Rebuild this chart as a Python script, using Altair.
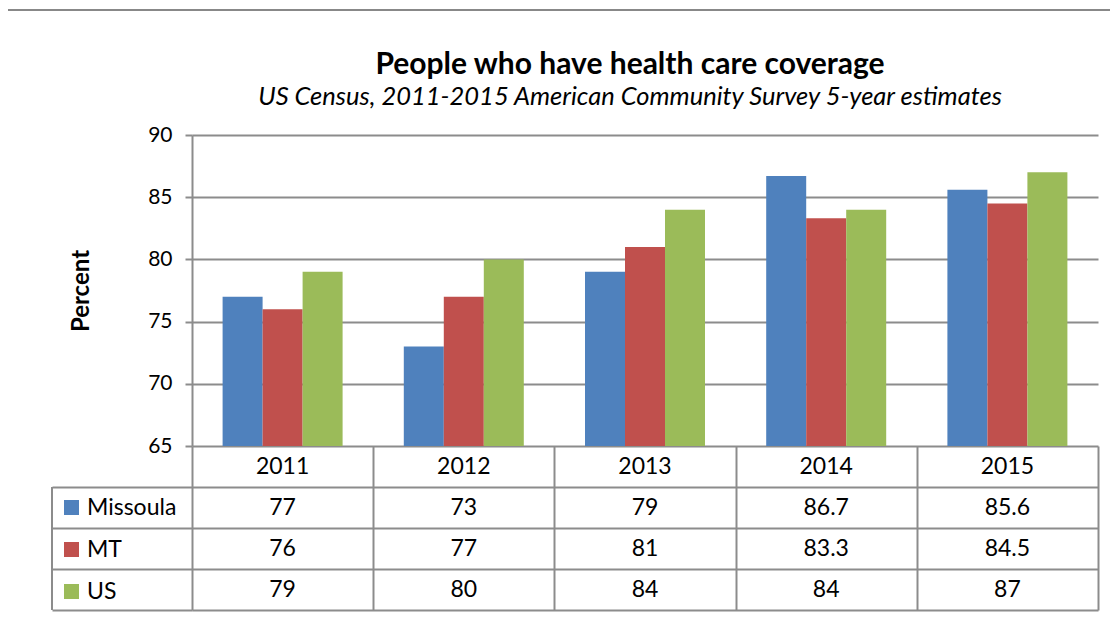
import altair as alt
import pandas as pd

years = ["2011", "2012", "2013", "2014", "2015"]
series = ["Missoula", "MT", "US"]
missoula = [77, 73, 79, 86.7, 85.6]
mt = [76, 77, 81, 83.3, 84.5]
us = [79, 80, 84, 84, 87]
colors = ["#4F81BD", "#C0504D", "#9BBB59"]
y_ticks = [65, 70, 75, 80, 85, 90]

values = {"Missoula": missoula, "MT": mt, "US": us}
bar_rows = []
for s in series:
    for yr, v in zip(years, values[s]):
        bar_rows.append({"year": yr, "series": s, "value": v})
df = pd.DataFrame(bar_rows)

table_rows = ["Year"] + series
trows = []
for i, yr in enumerate(years):
    trows.append({"year": yr, "row": "Year", "label": yr})
    for s in series:
        trows.append({"year": yr, "row": s, "label": f"{values[s][i]:g}"})
tdf = pd.DataFrame(trows)

W, H = 906, 311
ROW = 41
FONT = "Lato"
GRAY = "#8C8C8C"

x_enc = alt.X(
    "year:N", sort=years,
    scale=alt.Scale(domain=years, paddingInner=0, paddingOuter=0),
    axis=alt.Axis(labels=False, domain=False, ticks=True, tickBand="extent",
                  tickSize=4 * ROW, tickColor=GRAY, tickWidth=2, grid=False, title=None),
)

bars = alt.Chart(df).mark_bar().encode(
    x=x_enc,
    xOffset=alt.XOffset("series:N", sort=series,
                        scale=alt.Scale(domain=series, paddingInner=0, paddingOuter=0.765)),
    y=alt.Y("value:Q", scale=alt.Scale(domain=[65, 90], nice=False, zero=False),
            axis=alt.Axis(values=y_ticks, orient="left", title="Percent",
                          titleFont=FONT, titleFontWeight="bold", titleFontSize=24, titleColor="black",
                          titlePadding=54, labelFont=FONT, labelFontSize=21, labelColor="black",
                          labelPadding=13, tickSize=7, tickColor=GRAY, tickWidth=2,
                          domainColor=GRAY, domainWidth=2, grid=True, gridColor=GRAY, gridWidth=2)),
    y2=alt.datum(65),
    color=alt.Color("series:N", sort=series,
                    scale=alt.Scale(domain=series, range=colors),
                    legend=alt.Legend(orient="none", legendX=-132, legendY=H + ROW + 9,
                                      title=None, symbolType="square", symbolSize=225,
                                      symbolStrokeWidth=0, labelFont=FONT, labelFontSize=23,
                                      labelColor="black", labelOffset=4, rowPadding=18, padding=0)),
)

text = alt.Chart(tdf).mark_text(font=FONT, fontSize=23, color="black").encode(
    x=alt.X("year:N", sort=years),
    y=alt.Y("row:N",
            scale=alt.Scale(type="band", domain=table_rows, range=[H, H + 4 * ROW],
                            paddingInner=0, paddingOuter=0),
            axis=alt.Axis(orient="left", values=series, labels=False, domain=False,
                          tickBand="extent", tickSize=140, tickColor=GRAY, tickWidth=2,
                          grid=True, gridColor=GRAY, gridWidth=2, title=None)),
    text="label:N",
)

one = pd.DataFrame({"a": [0]})
frame_top = alt.Chart(one).mark_rule(color="#888888", strokeWidth=2).encode(
    x=alt.value(-185), x2=alt.value(W + 12), y=alt.value(-125))
frame_left = alt.Chart(one).mark_rule(color="#888888", strokeWidth=2).encode(
    x=alt.value(-185), y=alt.value(-125), y2=alt.value(H + 200))
edge = alt.Chart(one).mark_rule(color=GRAY, strokeWidth=2).encode(
    x=alt.value(-140), y=alt.value(H + ROW), y2=alt.value(H + 4 * ROW))

chart = alt.layer(bars, text, frame_top, frame_left, edge).resolve_scale(
    y="independent"
).properties(
    width=W, height=H,
    padding={"left": 184, "top": 127, "right": 12, "bottom": 168},
    autosize=alt.AutoSizeParams(type="none"),
    title=alt.TitleParams(
        "People who have health care coverage",
        subtitle="US Census, 2011-2015 American Community Survey 5-year estimates",
        font=FONT, fontSize=30, fontWeight="bold", color="black",
        subtitleFont=FONT, subtitleFontSize=25.5, subtitleFontStyle="italic", subtitleColor="black",
        subtitlePadding=5, anchor="middle", frame="group", dx=-15, offset=-101,
    ),
).configure_view(stroke=None)

chart.save("out.html", embed_options={"renderer": "svg", "actions": False})
